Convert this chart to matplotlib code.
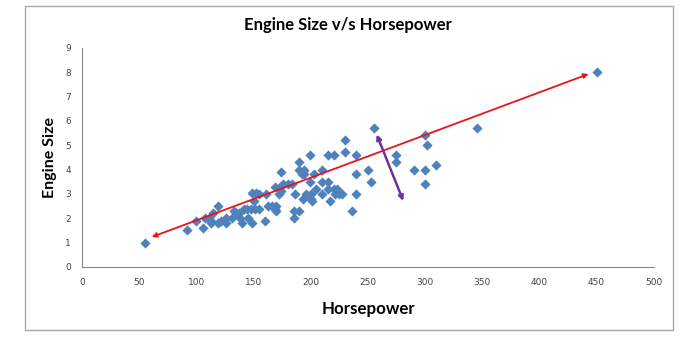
import matplotlib.pyplot as plt
from matplotlib.patches import Rectangle

# Horsepower vs engine size
horsepower = [55, 92, 100, 106, 108, 111, 113, 115, 113, 119, 119, 122, 126, 126, 131,
              133, 135, 137, 138, 140, 142, 144, 145, 148, 149, 149, 150, 151, 152, 155,
              155, 160, 161, 163, 166, 169, 169, 170, 170, 172, 173, 174, 174, 176, 180,
              184, 185, 185, 186, 190, 190, 190, 192, 193, 194, 194, 196, 199, 199, 200,
              200, 201, 203, 205, 210, 210, 210, 215, 215, 215, 217, 220, 220, 221, 223,
              225, 227, 230, 230, 236, 240, 240, 240, 250, 253, 255, 275, 275, 290, 300,
              300, 300, 302, 310, 345, 450]
engine_size = [1.0, 1.5, 1.9, 1.6, 2.0, 2.0, 1.9, 2.2, 1.8, 2.5, 1.8, 1.9, 2.0, 1.8, 2.0,
               2.3, 2.2, 2.2, 2.0, 1.8, 2.4, 2.4, 2.0, 2.4, 1.8, 3.05, 2.7, 2.4, 3.05, 2.4,
               3.0, 1.9, 3.0, 2.5, 2.5, 2.4, 3.3, 2.5, 2.3, 3.0, 3.3, 3.9, 3.1, 3.4, 3.4,
               3.4, 2.3, 2.0, 3.0, 4.3, 2.3, 4.0, 3.8, 2.8, 4.0, 3.8, 3.0, 4.6, 3.5, 2.8,
               3.0, 2.7, 3.8, 3.2, 4.0, 3.5, 3.0, 4.6, 3.5, 3.2, 2.7, 4.6, 3.2, 3.0, 3.2,
               3.0, 3.0, 5.2, 4.7, 2.3, 4.6, 3.8, 3.0, 4.0, 3.5, 5.7, 4.6, 4.3, 4.0, 5.4,
               4.0, 3.4, 5.0, 4.2, 5.7, 8.0]

# annotation arrows (start, end) in data units
trend_arrow = [(61, 1.23), (443, 7.92)]
spread_arrow = [(257.7, 5.44), (281, 2.71)]

x_ticks = list(range(0, 501, 50))
y_ticks = list(range(0, 10))

fig = plt.figure(figsize=(6.86, 3.43), dpi=100)
fig.patch.set_facecolor('white')
ax = fig.add_axes([0.1195, 0.2216, 0.8335, 0.6394])

ax.scatter(horsepower, engine_size, marker='D', s=27, color='#4F81BD', zorder=3, linewidths=0)

ax.annotate('', xy=trend_arrow[1], xytext=trend_arrow[0],
            arrowprops=dict(arrowstyle='<|-|>', color='#E8141B', lw=1.3,
                            mutation_scale=7, shrinkA=0, shrinkB=0), zorder=4)
ax.annotate('', xy=spread_arrow[1], xytext=spread_arrow[0],
            arrowprops=dict(arrowstyle='<|-|>', color='#7030A0', lw=1.8,
                            mutation_scale=7, shrinkA=0, shrinkB=0), zorder=4)

ax.set_xlim(0, 500)
ax.set_ylim(0, 9)
ax.set_xticks(x_ticks)
ax.set_yticks(y_ticks)
ax.tick_params(length=0, labelsize=6.5, labelcolor='#444444', pad=8)
for s in ['top', 'right']:
    ax.spines[s].set_visible(False)
for s in ['left', 'bottom']:
    ax.spines[s].set_color('#888888')
    ax.spines[s].set_linewidth(0.8)

fig.text(0.507, 0.927, 'Engine Size v/s Horsepower', ha='center', va='center',
         fontsize=12, fontweight='bold', family='Lato')
fig.text(0.537, 0.1, 'Horsepower', ha='center', va='center',
         fontsize=12.2, fontweight='bold', family='Lato')
fig.text(0.073, 0.542, 'Engine Size', ha='center', va='center', rotation=90,
         fontsize=11.5, fontweight='bold', family='Lato')

fig.add_artist(Rectangle((0.037, 0.038), 0.944, 0.945, transform=fig.transFigure,
                         fill=False, edgecolor='#AAAAAA', lw=1.0))

fig.savefig('out.png', dpi=100)
